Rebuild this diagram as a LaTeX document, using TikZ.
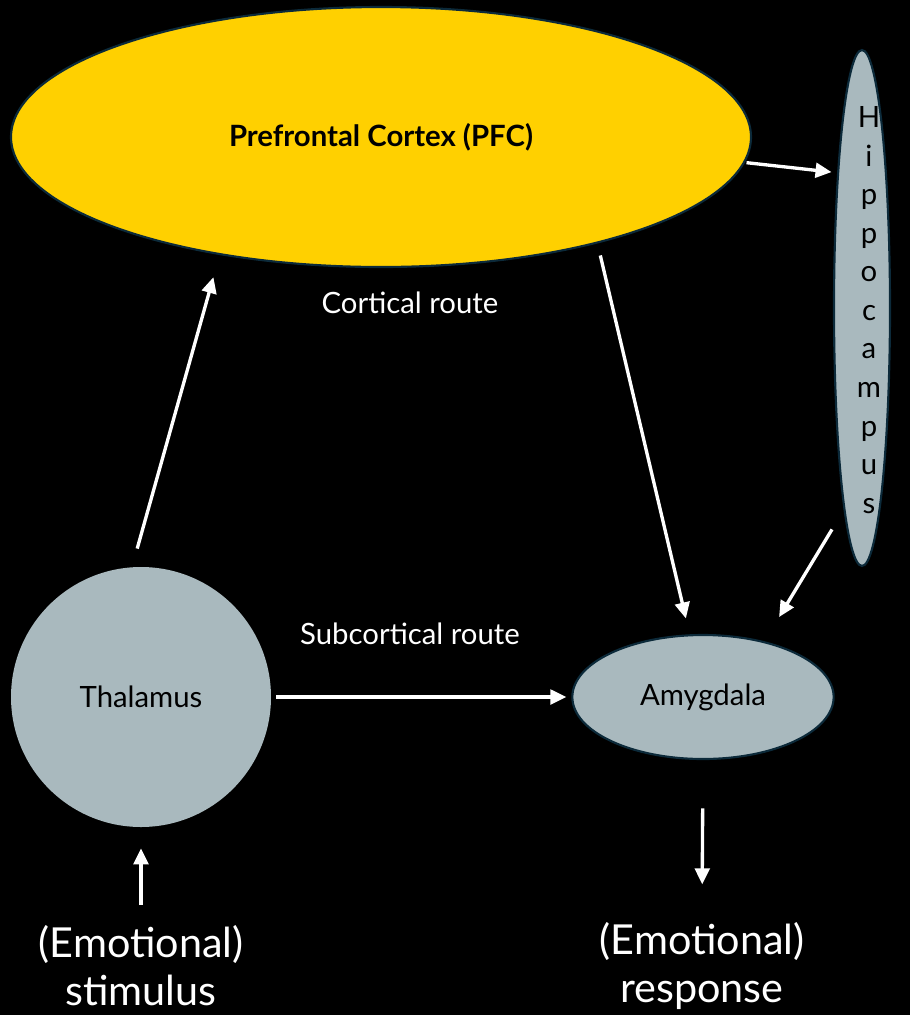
\documentclass[tikz,border=0pt]{standalone}
\usepackage{fontspec}
\setmainfont{Lato}
\usetikzlibrary{shapes.geometric,arrows.meta}
\definecolor{pfcgold}{RGB}{255,208,0}
\definecolor{brainGrey}{RGB}{169,185,190}
\definecolor{rimblue}{RGB}{12,42,58}

\begin{document}
\begin{tikzpicture}[x=0.75pt,y=-0.75pt,
    region/.style={ellipse, fill=brainGrey, draw=rimblue, line width=1.6pt, inner sep=0pt, outer sep=0pt, text=black, font=\fontsize{22}{26}\selectfont},
    arr/.style={-{Triangle[length=12pt,width=11pt]}, white, line width=2.5pt},
    route/.style={text=white, font=\fontsize{22}{26}\selectfont},
    big/.style={text=white, align=center, font=\fontsize{31}{36}\selectfont}]

    % Sfondo
    \path[use as bounding box, fill=black] (0,0) rectangle (910,1015);

    % Le regioni
    \node[region, fill=pfcgold, minimum width=555pt, minimum height=195pt, font=\bfseries\fontsize{22}{26}\selectfont] (pfc) at (381,137) {Prefrontal Cortex (PFC)};
    \node[region, minimum width=42pt, minimum height=387pt] (hippo) at (862,308) {};
    \node[align=center, inner sep=0pt, font=\fontsize{22}{28.9}\selectfont] (hippotext) at (869,310) {H\\i\\p\\p\\o\\c\\a\\m\\p\\u\\s};
    \node[region, circle, draw=none, minimum size=195pt] (thal) at (141,697) {Thalamus};
    \node[region, minimum width=196pt, minimum height=93pt] (amyg) at (703,697) {Amygdala};

    % Le scritte
    \node[route] (cort) at (410,303) {Cortical route};
    \node[route] (subcort) at (410,634) {Subcortical route};
    \node[big] (stim) at (141,966) {(Emotional)\\stimulus};
    \node[big] (resp) at (702,966) {(Emotional)\\response};

    % Le frecce
    \draw[arr, shorten <=14.6pt, shorten >=18pt] (thal.94) -- (pfc.216);
    \draw[arr, shorten <=10pt, shorten >=13pt] (pfc.334) -- (amyg.102);
    \draw[arr, shorten <=18pt, shorten >=22pt] (hippo.265) -- (amyg.42);
    \draw[arr, shorten <=2pt, shorten >=5pt] (pfc.356) -- (hippo.100);
    \draw[arr, shorten <=4pt, shorten >=4.5pt] (thal.east) -- (amyg.west);
    \draw[arr, shorten <=37pt, shorten >=25pt] (amyg.south) -- (resp.north);
    \draw[arr, shorten <=12pt, shorten >=16pt] (stim.north) -- (thal.south);
\end{tikzpicture}
\end{document}
